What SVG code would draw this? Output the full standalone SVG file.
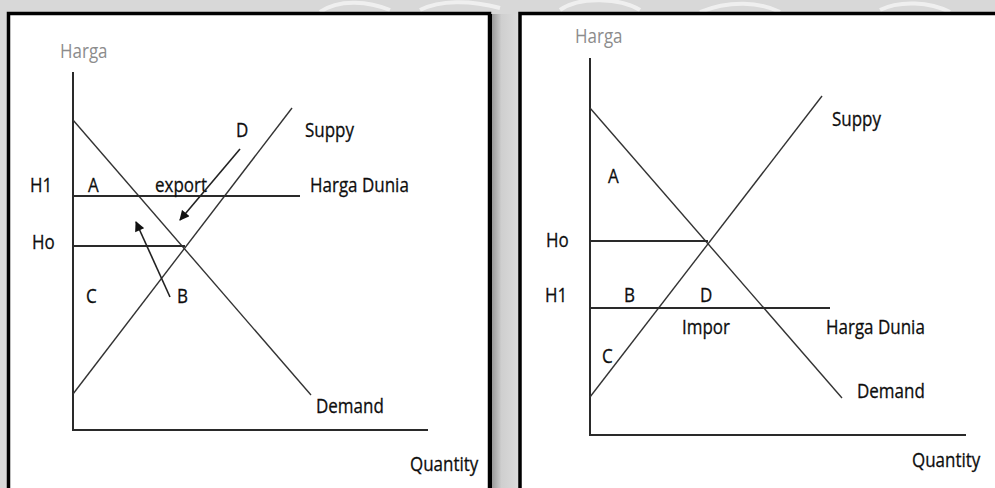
<svg xmlns="http://www.w3.org/2000/svg" width="995" height="488" viewBox="0 0 995 488">
<style>
.t{font-family:"Open Sans","Noto Sans",sans-serif;font-size:17px;fill:#0d0d0d;stroke:#0d0d0d;stroke-width:0.25}
.g{font-family:"Open Sans","Noto Sans",sans-serif;font-size:17px;fill:#8c8c8c}
.ax{stroke:#2a2a2a;stroke-width:2;fill:none}
.ln{stroke:#333;stroke-width:1.4;fill:none}
.ar{stroke:#222;stroke-width:1.6;fill:none;marker-end:url(#ah)}
.panel{fill:#fff;stroke:#000;stroke-width:3.5}
.wm{fill:none;stroke:#fff;stroke-width:4;opacity:0.6}
</style>
<defs>
<marker id="ah" viewBox="0 0 10 10" refX="9" refY="5" markerWidth="11" markerHeight="10" markerUnits="userSpaceOnUse" orient="auto">
<path d="M0,0 L10,5 L0,10 z" fill="#111"/>
</marker>
<linearGradient id="gap" x1="0" x2="1" y1="0" y2="0">
<stop offset="0" stop-color="#9a9a9a"/>
<stop offset="0.35" stop-color="#cfcfcf"/>
<stop offset="1" stop-color="#dcdcdc"/>
</linearGradient>
</defs>
<rect x="0" y="0" width="995" height="488" fill="#d8d8d8"/>
<rect x="492" y="14" width="27" height="474" fill="url(#gap)"/>
<g id="watermark">
<path class="wm" d="M320,12 C340,-2 370,2 390,10 M420,10 C440,0 470,0 500,8 M560,10 C580,-4 620,-2 640,10 M700,12 C730,0 760,2 780,12 M880,10 C900,0 930,2 950,12"/>
</g>
<g id="left-panel">
<rect class="panel" x="8.5" y="13.5" width="481" height="490"/>
<line x1="491" y1="14" x2="491" y2="488" stroke="#000" stroke-width="2"/>
</g>
<g id="right-panel">
<rect class="panel" x="520" y="13.5" width="490" height="490"/>
</g>
<g id="left-axes">
<line class="ax" x1="73" y1="72" x2="73" y2="430"/>
<line class="ax" x1="72" y1="430" x2="428" y2="430"/>
<text class="g" transform="translate(60,58) scale(1,1.15)">Harga</text>
<text class="t" transform="translate(410,471) scale(1,1.15)">Quantity</text>
</g>
<g id="left-curves">
<line class="ln" x1="73" y1="120" x2="311" y2="395"/>
<line class="ln" x1="73" y1="394" x2="292" y2="108"/>
<line class="ax" x1="73" y1="196" x2="300" y2="196"/>
<line class="ax" x1="73" y1="246" x2="185" y2="246"/>
</g>
<g id="left-labels">
<text class="t" transform="translate(30,192) scale(1,1.15)">H1</text>
<text class="t" transform="translate(88,192) scale(1,1.15)">A</text>
<text class="t" transform="translate(155,192) scale(1,1.15)">export</text>
<text class="t" transform="translate(310,192) scale(1,1.15)">Harga Dunia</text>
<text class="t" transform="translate(236,137) scale(1,1.15)">D</text>
<text class="t" transform="translate(305,137) scale(1,1.15)">Suppy</text>
<text class="t" transform="translate(32,249) scale(1,1.15)">Ho</text>
<text class="t" transform="translate(86,303) scale(1,1.15)">C</text>
<text class="t" transform="translate(177,303) scale(1,1.15)">B</text>
<text class="t" transform="translate(316,413) scale(1,1.15)">Demand</text>
</g>
<g id="connectors">
<line class="ar" x1="240" y1="149" x2="180" y2="220"/>
<line class="ar" x1="170" y1="297" x2="136" y2="222"/>
</g>
<g id="right-axes">
<line class="ax" x1="590" y1="58" x2="590" y2="436"/>
<line class="ax" x1="589" y1="435" x2="966" y2="435"/>
<text class="g" transform="translate(575,43) scale(1,1.15)">Harga</text>
<text class="t" transform="translate(912,467) scale(1,1.15)">Quantity</text>
</g>
<g id="right-curves">
<line class="ln" x1="590" y1="108" x2="842" y2="398"/>
<line class="ln" x1="590" y1="397" x2="822" y2="96"/>
<line class="ax" x1="590" y1="241" x2="708" y2="241"/>
<line class="ax" x1="590" y1="308" x2="830" y2="308"/>
</g>
<g id="right-labels">
<text class="t" transform="translate(832,126) scale(1,1.15)">Suppy</text>
<text class="t" transform="translate(608,183) scale(1,1.15)">A</text>
<text class="t" transform="translate(546,247) scale(1,1.15)">Ho</text>
<text class="t" transform="translate(545,302) scale(1,1.15)">H1</text>
<text class="t" transform="translate(624,302) scale(1,1.15)">B</text>
<text class="t" transform="translate(700,302) scale(1,1.15)">D</text>
<text class="t" transform="translate(682,334) scale(1,1.15)">Impor</text>
<text class="t" transform="translate(826,334) scale(1,1.15)">Harga Dunia</text>
<text class="t" transform="translate(602,363) scale(1,1.15)">C</text>
<text class="t" transform="translate(857,398) scale(1,1.15)">Demand</text>
</g>
</svg>
